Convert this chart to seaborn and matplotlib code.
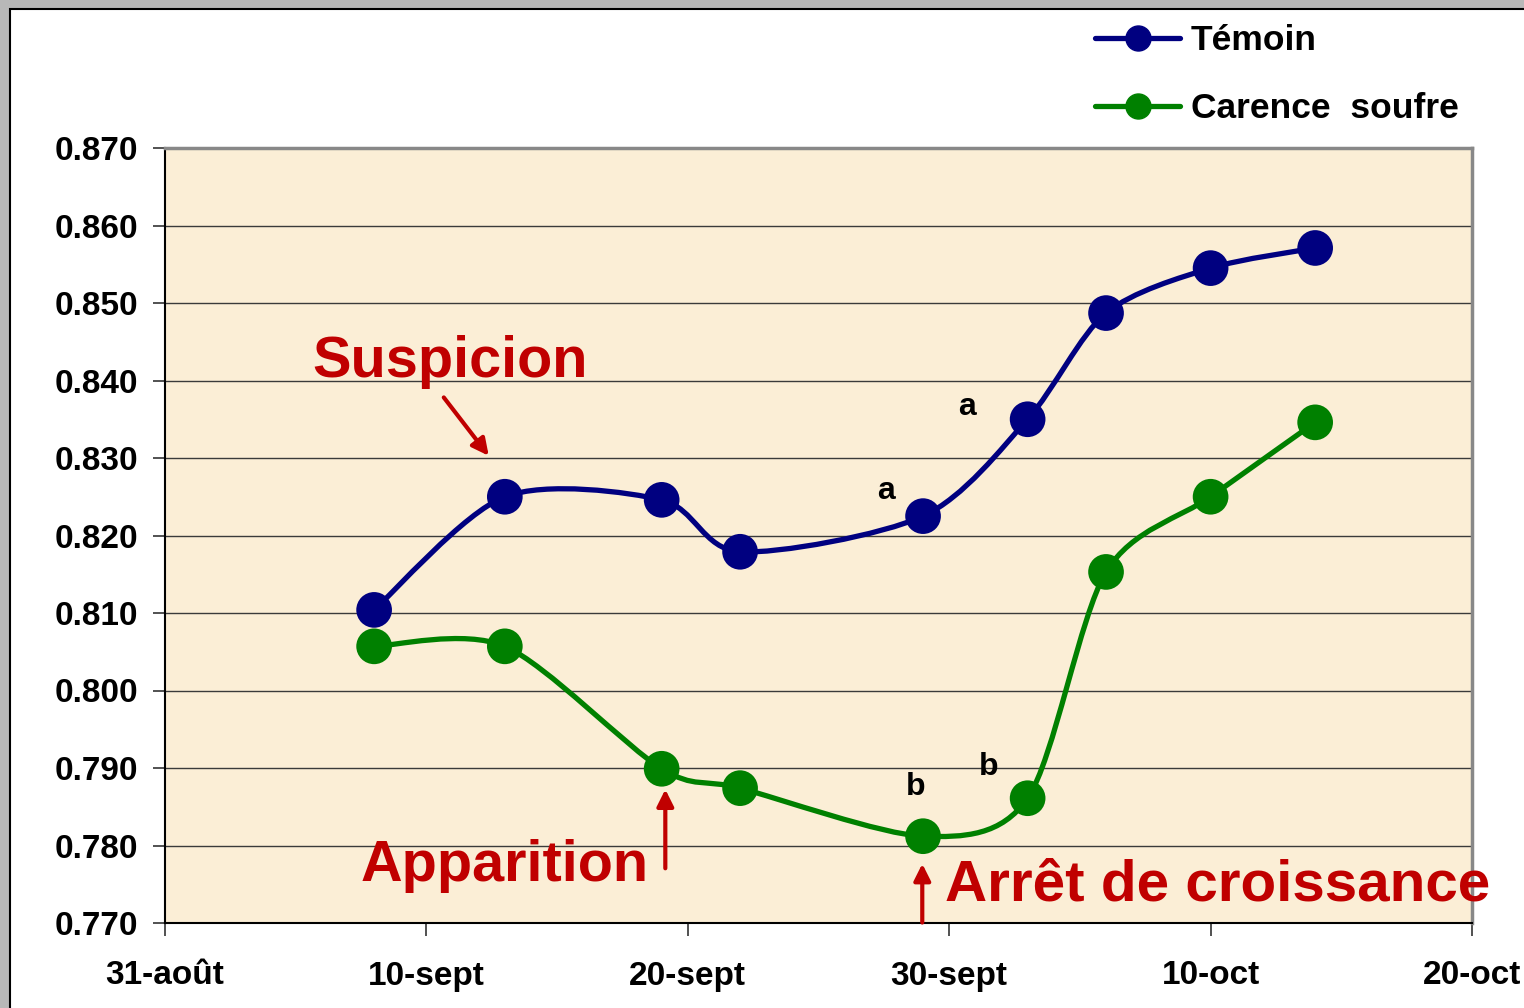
import numpy as np
import pandas as pd
import seaborn as sns
import matplotlib.pyplot as plt
import matplotlib.dates as mdates
from matplotlib.path import Path
from matplotlib.patches import PathPatch, Rectangle
from matplotlib.lines import Line2D

# données
dates = ["2004-09-08", "2004-09-13", "2004-09-19", "2004-09-22", "2004-09-29",
         "2004-10-03", "2004-10-06", "2004-10-10", "2004-10-14"]
temoin = [0.8104, 0.8250, 0.8246, 0.8179, 0.8225, 0.8350, 0.8487, 0.8545, 0.8571]
carence = [0.8057, 0.8057, 0.7899, 0.7874, 0.7812, 0.7861, 0.8153, 0.8250, 0.8346]
series_names = ["Témoin", "Carence  soufre"]
series_colors = ["#000080", "#008000"]

x_ticks = ["2004-08-31", "2004-09-10", "2004-09-20", "2004-09-30", "2004-10-10", "2004-10-20"]
x_labels = ["31-août", "10-sept", "20-sept", "30-sept", "10-oct", "20-oct"]
y_ticks = [0.770, 0.780, 0.790, 0.800, 0.810, 0.820, 0.830, 0.840, 0.850, 0.860, 0.870]
y_labels = ["0.770", "0.780", "0.790", "0.800", "0.810", "0.820", "0.830", "0.840",
            "0.850", "0.860", "0.870"]

df = pd.DataFrame({
    "date": pd.to_datetime(dates * 2),
    "valeur": temoin + carence,
    "serie": [series_names[0]] * len(dates) + [series_names[1]] * len(dates),
})

sns.set_style("white")
plt.rcParams["font.family"] = ["Liberation Sans", "DejaVu Sans"]
plt.rcParams["font.weight"] = "bold"
plt.rcParams["text.color"] = "black"
plt.rcParams["xtick.color"] = "black"
plt.rcParams["ytick.color"] = "black"

fig = plt.figure(figsize=(15.24, 10.08), dpi=100)
fig.patch.set_facecolor("#b8b8b8")
# fond blanc de la diapo
fig.patches.append(Rectangle((10 / 1524, -0.01), 1.0, 1 - 9 / 1008 + 0.01,
                             transform=fig.transFigure, facecolor="white",
                             edgecolor="black", linewidth=1.5, zorder=-5))

ax = fig.add_axes([165 / 1524, 1 - 923 / 1008, (1472 - 165) / 1524, (923 - 148) / 1008])
ax.set_facecolor("#FBEED6")


def smooth_path(xs, ys, k=7):
    # courbe lissée type Excel (Catmull-Rom -> Bézier)
    pts = np.column_stack([xs, ys])
    verts = [pts[0]]
    codes = [Path.MOVETO]
    n = len(pts)
    for i in range(n - 1):
        p0 = pts[max(i - 1, 0)]
        p1 = pts[i]
        p2 = pts[i + 1]
        p3 = pts[min(i + 2, n - 1)]
        c1 = p1 + (p2 - p0) / k
        c2 = p2 - (p3 - p1) / k
        verts += [c1, c2, p2]
        codes += [Path.CURVE4] * 3
    return Path(verts, codes)


for name, col in zip(series_names, series_colors):
    sub = df[df["serie"] == name]
    xs = mdates.date2num(sub["date"])
    ax.add_patch(PathPatch(smooth_path(xs, sub["valeur"].values), facecolor="none",
                           edgecolor=col, linewidth=3.8, zorder=3, capstyle="round"))

sns.scatterplot(data=df, x="date", y="valeur", hue="serie", palette=series_colors,
                s=660, edgecolor="none", legend=False, ax=ax, zorder=4)

xt = mdates.date2num(pd.to_datetime(x_ticks))
ax.set_xlim(xt[0], xt[-1])
ax.set_ylim(0.770, 0.870)
ax.set_xticks(xt)
ax.set_xticklabels(x_labels)
ax.set_yticks(y_ticks)
ax.set_yticklabels(y_labels)
ax.set_xlabel("")
ax.set_ylabel("")
ax.tick_params(axis="both", labelsize=24, length=9, width=1.2, color="#333333",
               direction="out", labelcolor="black")
ax.tick_params(axis="y", pad=10, left=True)
ax.tick_params(axis="x", pad=18, bottom=True)
ax.grid(axis="y", color="#3a3a3a", linewidth=1.0)
ax.grid(axis="x", visible=False)
ax.set_axisbelow(True)

for s in ["left", "bottom"]:
    ax.spines[s].set_color("black")
    ax.spines[s].set_linewidth(1.5)
for s in ["top", "right"]:
    ax.spines[s].set_color("#888888")
    ax.spines[s].set_linewidth(2.5)


def d(day):
    return mdates.date2num(pd.Timestamp("2004-08-31") + pd.Timedelta(days=day))


red = "#C00000"
ax.text(d(10.9), 0.8424, "Suspicion", color=red, fontsize=41.5, fontweight="bold",
        ha="center", va="center")
ax.annotate("", xy=(d(12.45), 0.8300), xytext=(d(10.6), 0.8381),
            arrowprops=dict(arrowstyle="-|>", color=red, lw=3, mutation_scale=25))
ax.text(d(13.0), 0.7774, "Apparition", color=red, fontsize=41.5, fontweight="bold",
        ha="center", va="center")
ax.annotate("", xy=(d(19.14), 0.7876), xytext=(d(19.14), 0.7767),
            arrowprops=dict(arrowstyle="-|>", color=red, lw=3, mutation_scale=25))
ax.text(d(29.85), 0.7749, "Arrêt de croissance", color=red, fontsize=42,
        fontweight="bold", ha="left", va="center", clip_on=False, zorder=5)
ax.annotate("", xy=(d(28.97), 0.7780), xytext=(d(28.97), 0.7697),
            arrowprops=dict(arrowstyle="-|>", color=red, lw=3, mutation_scale=25),
            annotation_clip=False)

for dx, yv, lab in [(30.7, 0.8366, "a"), (27.6, 0.8258, "a"),
                    (28.7, 0.7875, "b"), (31.5, 0.7901, "b")]:
    ax.text(d(dx), yv, lab, fontsize=23, fontweight="bold", ha="center", va="center",
            color="black")

handles = [Line2D([], [], color=c, lw=3.8, marker="o", markersize=18) for c in series_colors]
fig.legend(handles, series_names, loc="upper left",
           bbox_to_anchor=(1095 / 1524, 1 - 24 / 1008), frameon=False,
           fontsize=25.5, handlelength=2.4, handletextpad=0.3, labelspacing=1.0,
           borderpad=0, borderaxespad=0)

fig.savefig("out.png", dpi=100)
